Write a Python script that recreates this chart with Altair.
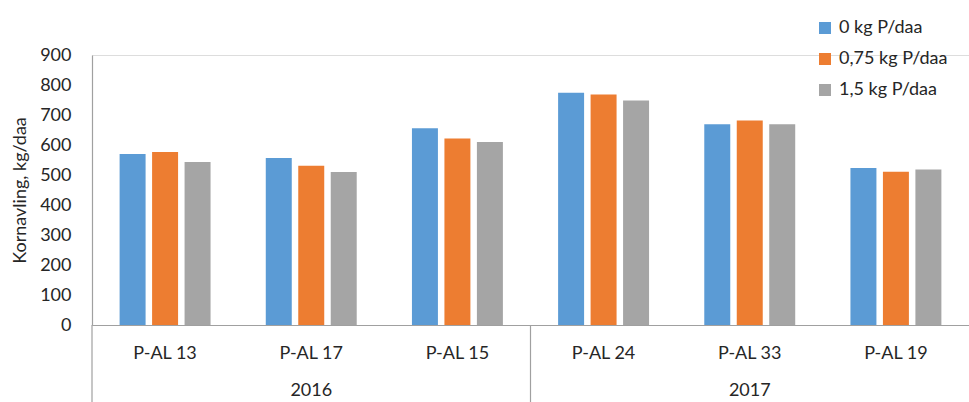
import altair as alt
import pandas as pd

categories = ["P-AL 13", "P-AL 17", "P-AL 15", "P-AL 24", "P-AL 33", "P-AL 19"]
years = ["2016", "2016", "2016", "2017", "2017", "2017"]
series = ["0 kg P/daa", "0,75 kg P/daa", "1,5 kg P/daa"]
v0 = [570, 557, 656, 774, 669, 523]
v075 = [577, 531, 622, 768, 682, 511]
v15 = [543, 510, 610, 748, 669, 518]
colors = ["#5B9BD5", "#ED7D31", "#A5A5A5"]

rows = []
for s, vals in zip(series, [v0, v075, v15]):
    for c, y, v in zip(categories, years, vals):
        rows.append({"cat": c, "year": y, "series": s, "value": v})
df = pd.DataFrame(rows)

year_df = pd.DataFrame({"year": ["2016", "2017"], "cat": [categories[1], categories[4]]})
sep_df = pd.DataFrame({"cat": [categories[0], categories[3]]})

FONT = "Lato"
TXT = "#262626"
LINE = "#A0A0A0"

xscale = alt.Scale(domain=categories, paddingInner=0, paddingOuter=0)

bars = alt.Chart(df).mark_bar().encode(
    x=alt.X("cat:N", sort=categories, scale=xscale,
            axis=alt.Axis(title=None, ticks=False, labelAngle=0, labelPadding=19,
                          labelFontSize=18, labelColor=TXT, labelFont=FONT,
                          domainColor=LINE, domainWidth=1.2)),
    xOffset=alt.XOffset("series:N", sort=series,
                        scale=alt.Scale(paddingInner=0.2, paddingOuter=0.85)),
    y=alt.Y("value:Q", scale=alt.Scale(domain=[0, 900], nice=False),
            axis=alt.Axis(title="Kornavling, kg/daa", values=list(range(0, 901, 100)),
                          ticks=False, grid=False, labelPadding=21, labelFontSize=18,
                          labelColor=TXT, labelFont=FONT, domainColor=LINE,
                          domainWidth=1.2, titleFont=FONT, titleFontSize=18,
                          titleFontWeight="normal", titleColor=TXT, titleX=-72,
                          titleY=135, titleBaseline="middle", titleAlign="center")),
    color=alt.Color("series:N", sort=series,
                    scale=alt.Scale(domain=series, range=colors),
                    legend=alt.Legend(title=None, orient="none", legendX=724, legendY=-36,
                                      symbolType="square", symbolSize=144,
                                      symbolStrokeWidth=0, labelFontSize=18,
                                      labelFont=FONT, labelColor=TXT,
                                      rowPadding=13, labelOffset=5)),
)

seps = alt.Chart(sep_df).mark_rule(color=LINE, strokeWidth=1.2).encode(
    x=alt.X("cat:N", sort=categories, scale=xscale, bandPosition=0),
    y=alt.value(270),
    y2=alt.value(360),
)

year_text = alt.Chart(year_df).mark_text(
    fontSize=18, font=FONT, color=TXT, baseline="top"
).encode(
    x=alt.X("cat:N", sort=categories, scale=xscale),
    y=alt.value(327),
    text="year:N",
)

chart = alt.layer(bars, seps, year_text).properties(
    width=877, height=270,
    autosize=alt.AutoSizeParams(type="none"),
    padding={"left": 92, "top": 55, "right": 0, "bottom": 77},
).configure_view(stroke=None).configure(background="white")

chart.save("out.html", embed_options={"renderer": "svg", "actions": False})
